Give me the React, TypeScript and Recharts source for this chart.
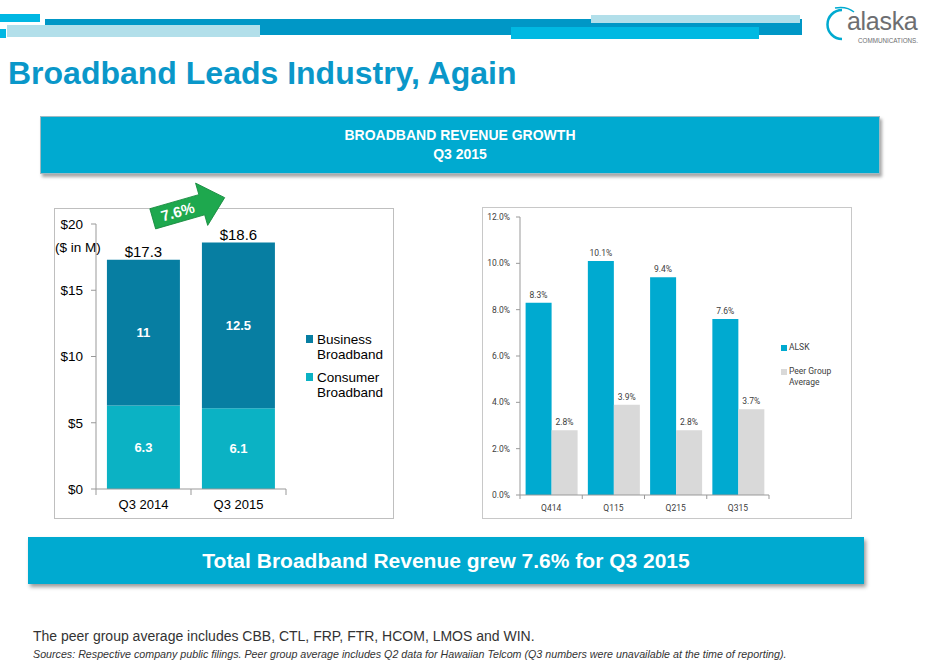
import React from 'react';
import { BarChart, Bar, XAxis, YAxis, LabelList, Legend } from 'recharts';

// left chart: broadband revenue ($M)
const revQuarters = ['Q3 2014', 'Q3 2015'];
const consumerRev = [6.3, 6.1];
const businessRev = [11, 12.5];
const totalRev = [17.3, 18.6];
const revTicks = [0, 5, 10, 15, 20];

// right chart: revenue growth, ALSK vs peers (%)
const growthQuarters = ['Q414', 'Q115', 'Q215', 'Q315'];
const alskGrowth = [8.3, 10.1, 9.4, 7.6];
const peerGrowth = [2.8, 3.9, 2.8, 3.7];
const growthTicks = [0, 2, 4, 6, 8, 10, 12];

const revData = revQuarters.map((q, i) => ({
  name: q,
  consumer: consumerRev[i],
  business: businessRev[i],
  total: totalRev[i],
}));

const growthData = growthQuarters.map((q, i) => ({
  name: q,
  alsk: alskGrowth[i],
  peer: peerGrowth[i],
}));

const ARIAL = '"Liberation Sans", Arial, sans-serif';
const SMALL = 'Roboto, "Open Sans", sans-serif';

const BUSINESS = '#077ea2';
const CONSUMER = '#0bb2c4';
const ALSK = '#00aad0';
const PEER = '#d9d9d9';

// category-boundary ticks, the way Excel draws them
function BoundaryTick(props: any) {
  const { x, y, payload, index, count, fontSize, fill, fontFamily, len, dy } = props;
  const half = payload.offset || 0;
  return (
    <g>
      <line x1={x - half} x2={x - half} y1={y} y2={y + len} stroke="#999" />
      {index === count - 1 && (
        <line x1={x + half} x2={x + half} y1={y} y2={y + len} stroke="#999" />
      )}
      <text x={x} y={y + dy} textAnchor="middle" fontSize={fontSize} fill={fill} fontFamily={fontFamily}>
        {payload.value}
      </text>
    </g>
  );
}

function RevLegend() {
  const items = [
    { color: BUSINESS, lines: ['Business', 'Broadband'] },
    { color: CONSUMER, lines: ['Consumer', 'Broadband'] },
  ];
  return (
    <div style={{ fontFamily: ARIAL, fontSize: 13.5, color: '#000', lineHeight: '15px' }}>
      {items.map((it) => (
        <div key={it.lines[0]} style={{ display: 'flex', marginBottom: 8 }}>
          <div style={{ width: 7, height: 8, background: it.color, marginTop: 3, marginRight: 4 }} />
          <div>
            {it.lines.map((l) => (
              <div key={l}>{l}</div>
            ))}
          </div>
        </div>
      ))}
    </div>
  );
}

function GrowthLegend() {
  return (
    <div style={{ fontFamily: SMALL, fontSize: 8.5, color: '#404040', lineHeight: '11px' }}>
      <div style={{ display: 'flex', marginBottom: 13 }}>
        <div style={{ width: 6, height: 6, background: ALSK, marginTop: 2.5, marginRight: 2 }} />
        <div>ALSK</div>
      </div>
      <div style={{ display: 'flex' }}>
        <div style={{ width: 6, height: 6, background: PEER, marginTop: 2.5, marginRight: 2 }} />
        <div>
          <div>Peer Group</div>
          <div>Average</div>
        </div>
      </div>
    </div>
  );
}

function TopBars() {
  const bar = (left: number, top: number, w: number, h: number, bg: string) => (
    <div style={{ position: 'absolute', left, top, width: w, height: h, background: bg }} />
  );
  return (
    <>
      {bar(45, 19, 757, 16, '#0097c6')}
      {bar(0, 14, 40, 8, '#00b7e3')}
      {bar(7, 25, 253, 12, '#b2dfea')}
      {bar(0, 29, 6, 9, '#00b7e3')}
      {bar(591, 15, 209, 8, '#b2dfea')}
      {bar(511, 27, 248, 12, '#00b9e2')}
    </>
  );
}

function Logo() {
  return (
    <div style={{ position: 'absolute', left: 826, top: 3, width: 105, height: 44 }}>
      <svg width={105} height={44}>
        <path d="M 16 7 A 14 14 0 1 0 16 36" fill="none" stroke="#00aad0" strokeWidth={2.5} />
        <path d="M 9 5 A 18 12 0 0 1 28 9" fill="none" stroke="#00aad0" strokeWidth={1.5} />
        <text x={21} y={27} fontFamily={ARIAL} fontSize={25} fill="#6d6e71" letterSpacing={-0.3}>alaska</text>
        <text x={32} y={40} fontFamily={ARIAL} fontSize={6.3} fill="#6d6e71">COMMUNICATIONS.</text>
      </svg>
    </div>
  );
}

function GrowthArrow() {
  return (
    <div style={{ position: 'absolute', left: 147, top: 179, width: 90, height: 55 }}>
      <svg width={90} height={55}>
        <g transform="rotate(-16 45 28)">
          <polygon
            points="4,18 55,18 55,6 79,28 55,50 55,39 4,39"
            fill="#1ea84e"
            stroke="#168a3d"
            strokeWidth={0.8}
          />
          <text x={30} y={34} textAnchor="middle" fontFamily={ARIAL} fontWeight="bold" fontSize={15} fill="#fff">
            7.6%
          </text>
        </g>
      </svg>
    </div>
  );
}

export default function App() {
  const totalLabel = (props: any) => {
    const { x, y, width, index } = props;
    return (
      <text x={x + width / 2} y={y - 3} textAnchor="middle" fontFamily={ARIAL} fontSize={15} fill="#000">
        {'$' + totalRev[index].toFixed(1)}
      </text>
    );
  };
  const growthLabel = (props: any) => {
    const { x, y, width, value } = props;
    return (
      <text x={x + width / 2} y={y - 5} textAnchor="middle" fontFamily={SMALL} fontSize={8.5} fill="#404040">
        {value.toFixed(1) + '%'}
      </text>
    );
  };

  return (
    <div style={{ position: 'absolute', left: 0, top: 0, width: 931, height: 666, background: '#fff', overflow: 'hidden' }}>
      <TopBars />
      <Logo />

      <div
        style={{
          position: 'absolute', left: 8, top: 55, fontFamily: ARIAL, fontWeight: 'bold',
          fontSize: 32, color: '#0a97c9', whiteSpace: 'nowrap',
        }}
      >
        Broadband Leads Industry, Again
      </div>

      {/* heading banner */}
      <div
        style={{
          position: 'absolute', left: 40, top: 116, width: 840, height: 58, background: '#00aad0',
          border: '1px solid #9fb9c2', boxSizing: 'border-box', boxShadow: '2px 3px 3px rgba(0,0,0,0.35)',
          color: '#fff', fontFamily: ARIAL, fontWeight: 'bold', fontSize: 14, textAlign: 'center',
          lineHeight: '19px', paddingTop: 9,
        }}
      >
        <div>BROADBAND REVENUE GROWTH</div>
        <div>Q3 2015</div>
      </div>

      {/* left chart */}
      <div
        style={{
          position: 'absolute', left: 54, top: 208, width: 340, height: 311,
          border: '1px solid #bfbfbf', boxSizing: 'border-box', background: '#fff',
        }}
      >
        <BarChart
          width={338}
          height={309}
          data={revData}
          margin={{ top: 15, right: 107, bottom: 0, left: 0 }}
          barCategoryGap="11.5%"
        >
          <XAxis
            dataKey="name"
            height={29}
            interval={0}
            axisLine={{ stroke: '#999' }}
            tickLine={false}
            tickSize={0}
            tickMargin={0}
            tick={<BoundaryTick count={revData.length} fontSize={13} fill="#000" fontFamily={ARIAL} len={6} dy={20} />}
          />
          <YAxis
            width={41}
            domain={[0, 20]}
            ticks={revTicks}
            tickFormatter={(v: number) => '$' + v}
            axisLine={{ stroke: '#999' }}
            tickLine={{ stroke: '#999' }}
            tickSize={5}
            tickMargin={8}
            tick={{ fontFamily: ARIAL, fontSize: 13.5, fill: '#000' }}
          />
          <Legend
            layout="vertical"
            align="center"
            verticalAlign="middle"
            content={<RevLegend />}
            wrapperStyle={{ left: 251, top: 123, width: 90 }}
          />
          <Bar dataKey="consumer" stackId="a" fill={CONSUMER} isAnimationActive={false} legendType="square">
            <LabelList
              dataKey="consumer"
              position="center"
              fill="#fff"
              fontFamily={ARIAL}
              fontWeight="bold"
              fontSize={13}
            />
          </Bar>
          <Bar dataKey="business" stackId="a" fill={BUSINESS} isAnimationActive={false} legendType="square">
            <LabelList
              dataKey="business"
              position="center"
              fill="#fff"
              fontFamily={ARIAL}
              fontWeight="bold"
              fontSize={13}
            />
            <LabelList dataKey="total" content={totalLabel} />
          </Bar>
        </BarChart>
        <div
          style={{
            position: 'absolute', left: 0, top: 31, fontFamily: ARIAL, fontSize: 13.5, color: '#000',
          }}
        >
          ($ in M)
        </div>
      </div>

      <GrowthArrow />

      {/* right chart */}
      <div
        style={{
          position: 'absolute', left: 482, top: 207, width: 370, height: 312,
          border: '1px solid #c8c8c8', boxSizing: 'border-box', background: '#fff',
        }}
      >
        <BarChart
          width={368}
          height={310}
          data={growthData}
          margin={{ top: 9, right: 82, bottom: 0, left: 0 }}
          barCategoryGap="9%"
          barGap={0}
        >
          <XAxis
            dataKey="name"
            height={23}
            interval={0}
            axisLine={{ stroke: '#999' }}
            tickLine={false}
            tickSize={0}
            tickMargin={0}
            tick={<BoundaryTick count={growthData.length} fontSize={8.5} fill="#404040" fontFamily={SMALL} len={4} dy={16} />}
          />
          <YAxis
            width={37}
            domain={[0, 12]}
            ticks={growthTicks}
            tickFormatter={(v: number) => v.toFixed(1) + '%'}
            axisLine={{ stroke: '#999' }}
            tickLine={{ stroke: '#999' }}
            tickSize={4}
            tickMargin={6}
            tick={{ fontFamily: SMALL, fontSize: 8.5, fill: '#404040' }}
          />
          <Legend
            layout="vertical"
            align="center"
            verticalAlign="middle"
            content={<GrowthLegend />}
            wrapperStyle={{ left: 298, top: 134, width: 70 }}
          />
          <Bar dataKey="alsk" fill={ALSK} isAnimationActive={false}>
            <LabelList dataKey="alsk" content={growthLabel} />
          </Bar>
          <Bar dataKey="peer" fill={PEER} isAnimationActive={false}>
            <LabelList dataKey="peer" content={growthLabel} />
          </Bar>
        </BarChart>
      </div>

      {/* takeaway banner */}
      <div
        style={{
          position: 'absolute', left: 28, top: 537, width: 836, height: 47, background: '#00aad0',
          boxShadow: '2px 3px 4px rgba(0,0,0,0.4)', color: '#fff', fontFamily: ARIAL, fontWeight: 'bold',
          fontSize: 21, textAlign: 'center', lineHeight: '47px',
        }}
      >
        Total Broadband Revenue grew 7.6% for Q3 2015
      </div>

      <div style={{ position: 'absolute', left: 33, top: 628, fontFamily: ARIAL, fontSize: 14, color: '#333' }}>
        The peer group average includes CBB, CTL, FRP, FTR, HCOM, LMOS and WIN.
      </div>
      <div
        style={{
          position: 'absolute', left: 33, top: 648, fontFamily: ARIAL, fontSize: 10.7, fontStyle: 'italic',
          color: '#333', whiteSpace: 'nowrap',
        }}
      >
        Sources: Respective company public filings. Peer group average includes Q2 data for Hawaiian Telcom (Q3 numbers were unavailable at the time of reporting).
      </div>
    </div>
  );
}
